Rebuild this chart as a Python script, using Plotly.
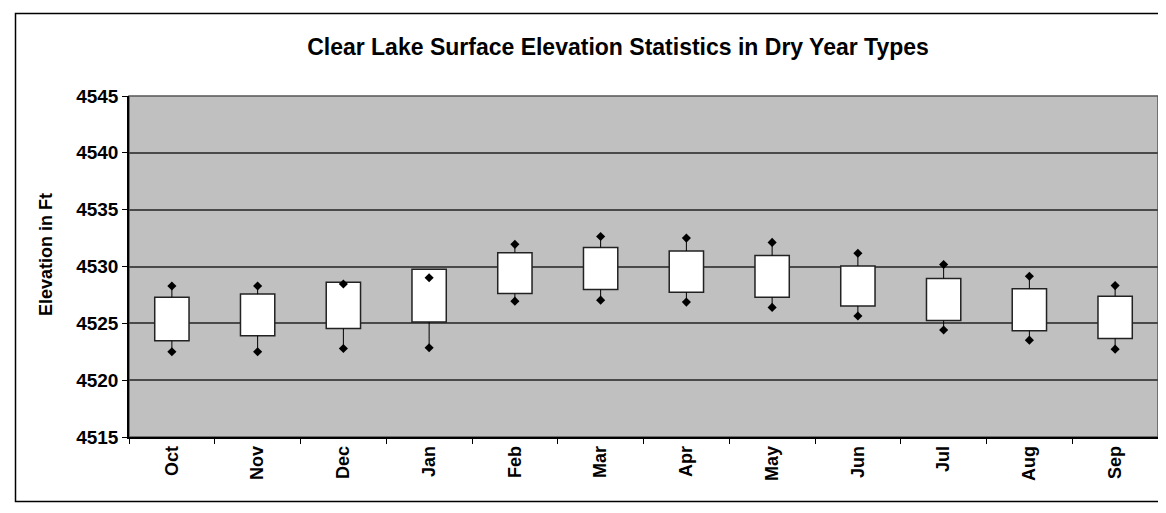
import plotly.graph_objects as go

months = ["Oct", "Nov", "Dec", "Jan", "Feb", "Mar", "Apr", "May", "Jun", "Jul", "Aug", "Sep"]
box_top = [4527.30, 4527.57, 4528.61, 4529.75, 4531.22, 4531.68, 4531.36, 4530.96, 4530.05, 4528.95, 4528.05, 4527.39]
box_bottom = [4523.46, 4523.90, 4524.54, 4525.12, 4527.62, 4527.97, 4527.74, 4527.30, 4526.52, 4525.24, 4524.34, 4523.66]
high = [4528.29, 4528.29, 4528.46, 4529.01, 4531.95, 4532.64, 4532.50, 4532.12, 4531.16, 4530.17, 4529.14, 4528.32]
low = [4522.50, 4522.50, 4522.79, 4522.85, 4526.95, 4527.04, 4526.87, 4526.40, 4525.65, 4524.42, 4523.52, 4522.73]

# page body adds an 8px margin, so work in screen px and shift back
OFF = 8
W, H = 1166 - OFF, 513 - OFF
# plot area on screen: x 129..1158, y 96..437
L, R, T, B = 129, 1158, 96, 437


def px_x(x):
    return (x - L) / (R - L)


def px_y(y):
    return (B - y) / (B - T)


fig = go.Figure()
# high-low lines; plotly puts bars under scatter, so only draw the parts outside the box
for m, lo, hi, bt, bb in zip(months, low, high, box_top, box_bottom):
    for y0, y1 in [(lo, min(hi, bb)), (max(lo, bt), hi)]:
        if y1 > y0:
            fig.add_trace(go.Scatter(x=[m, m], y=[y0, y1], mode="lines",
                                     line=dict(color="black", width=1),
                                     hoverinfo="skip", showlegend=False))
fig.add_trace(go.Bar(x=months, y=[t - b for t, b in zip(box_top, box_bottom)], base=box_bottom,
                     width=0.4, marker=dict(color="white", line=dict(color="#222", width=1.5)),
                     showlegend=False))
fig.add_trace(go.Scatter(x=months + months, y=high + low, mode="markers",
                         marker=dict(symbol="diamond", size=7, color="black"), showlegend=False))

fig.update_layout(
    width=W, height=H,
    margin=dict(l=L - OFF, r=W - (R - OFF), t=T - OFF, b=H - (B - OFF), autoexpand=False),
    paper_bgcolor="white", plot_bgcolor="#C0C0C0",
    font=dict(family="Liberation Sans, Arial", color="black"),
    title=dict(text="<b>Clear Lake Surface Elevation Statistics in Dry Year Types</b>",
               x=(618 - OFF) / W, xanchor="center", xref="container",
               y=1 - (47 - OFF) / H, yanchor="middle", yref="container",
               font=dict(size=23)),
    shapes=[
        dict(type="rect", xref="paper", yref="paper", x0=0, x1=1, y0=0, y1=1,
             line=dict(color="#555", width=1.5), layer="below"),
        dict(type="rect", xref="paper", yref="paper", x0=px_x(15.5), x1=px_x(1164), y0=px_y(13.5),
             y1=px_y(501.5), line=dict(color="black", width=1.5)),
    ],
    annotations=[
        dict(text="<b>Elevation in Ft</b>", xref="paper", yref="paper", x=px_x(46), y=px_y(255),
             textangle=-90, showarrow=False, font=dict(size=18), xanchor="center", yanchor="middle"),
    ],
)
fig.update_xaxes(type="category", categoryorder="array", categoryarray=months, range=[-0.5, 11.5],
                 tickangle=-90, tickson="boundaries", ticks="outside", ticklen=5,
                 tickcolor="black", showline=True, linecolor="black", linewidth=1.5,
                 showgrid=False, tickfont=dict(size=18), tickprefix="<b>", ticksuffix="</b>")
fig.update_yaxes(range=[4515, 4545], dtick=5, ticks="outside", ticklen=5, tickcolor="black",
                 showline=True, linecolor="black", linewidth=1.5, gridcolor="#4a4a4a", gridwidth=1.5,
                 zeroline=False, tickfont=dict(size=19), tickprefix="<b>", ticksuffix="</b>")

fig.write_html("out.html")
